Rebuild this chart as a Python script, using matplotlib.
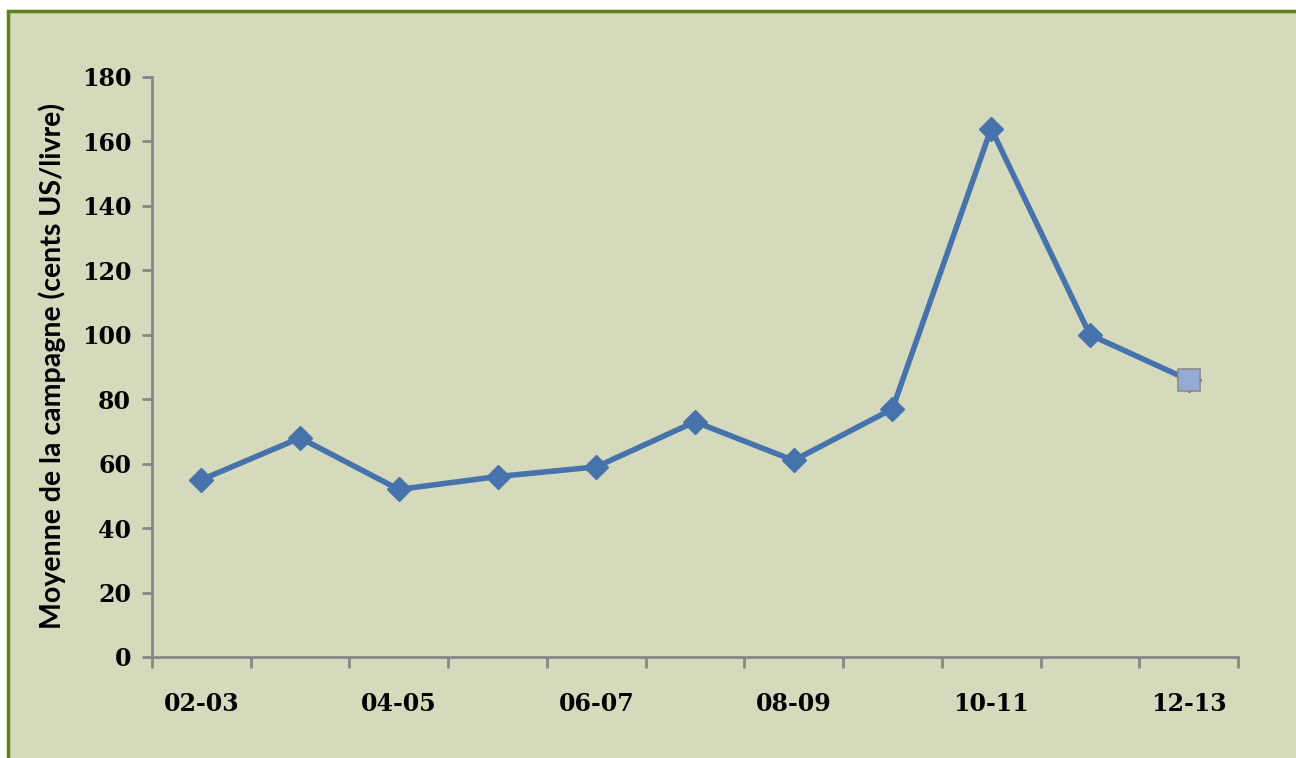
import matplotlib
matplotlib.use("Agg")
import matplotlib.pyplot as plt
from matplotlib.patches import Rectangle
from matplotlib.lines import Line2D

campaigns = ["02-03", "03-04", "04-05", "05-06", "06-07", "07-08",
             "08-09", "09-10", "10-11", "11-12", "12-13"]
prices = [55, 68, 52, 56, 59, 73, 61, 77, 164, 100, 86]
yticks = [0, 20, 40, 60, 80, 100, 120, 140, 160, 180]
ylabel = "Moyenne de la campagne (cents US/livre)"

W, H = 1296, 758
fig = plt.figure(figsize=(W / 100, H / 100), dpi=100, facecolor="white")

bg = "#D5DABD"
border = "#62801A"
x0, y1 = 8 / W, 1 - 11 / H
fig.patches.append(Rectangle((x0, 0), 1 - x0, y1, transform=fig.transFigure,
                             facecolor=bg, edgecolor="none", zorder=-10))
fig.lines.append(Line2D([x0, x0, 1.05], [-0.05, y1, y1], transform=fig.transFigure,
                        color=border, linewidth=2.5, zorder=-9,
                        solid_joinstyle="miter"))

ax = fig.add_axes([152 / W, 1 - 657 / H, (1238 - 152) / W, (657 - 77) / H])
ax.set_facecolor("none")
ax.set_zorder(5)

x = list(range(len(campaigns)))
line_color = "#4673AC"
ax.plot(x, prices, color=line_color, linewidth=4.0, marker="D",
        markersize=12, markerfacecolor=line_color, markeredgecolor=line_color,
        zorder=3, clip_on=False)
ax.plot(x[-1:], prices[-1:], linestyle="none", marker="s", markersize=16,
        markerfacecolor="#95AAD4", markeredgecolor="#8C8C8C",
        markeredgewidth=1.2, zorder=4, clip_on=False)

ax.set_xlim(-0.5, len(campaigns) - 0.5)
ax.set_ylim(0, 180)
ax.set_yticks(yticks)

axis_color = "#878787"
for s in ["top", "right"]:
    ax.spines[s].set_visible(False)
for s in ["left", "bottom"]:
    ax.spines[s].set_color(axis_color)
    ax.spines[s].set_linewidth(2)

tick_font = dict(family="DejaVu Serif", weight="bold", size=17)

ax.set_xticks([i - 0.5 for i in range(len(campaigns) + 1)])
ax.set_xticklabels([])
ax.set_xticks(x[::2], minor=True)
ax.set_xticklabels(campaigns[::2], minor=True, fontdict=tick_font)
ax.tick_params(axis="x", which="major", length=8, width=2, color=axis_color)
ax.tick_params(axis="x", which="minor", length=0, pad=25)
ax.tick_params(axis="y", length=7, width=2, color=axis_color, pad=8)
for lab in ax.get_yticklabels():
    lab.set_fontfamily("DejaVu Serif")
    lab.set_fontweight("bold")
    lab.set_fontsize(17)

fig.text(52 / W, 1 - 366 / H, ylabel, rotation=90, ha="center", va="center",
         fontsize=20.5, fontweight="bold", family="Lato")

fig.savefig("out.png", dpi=100, facecolor="white")
